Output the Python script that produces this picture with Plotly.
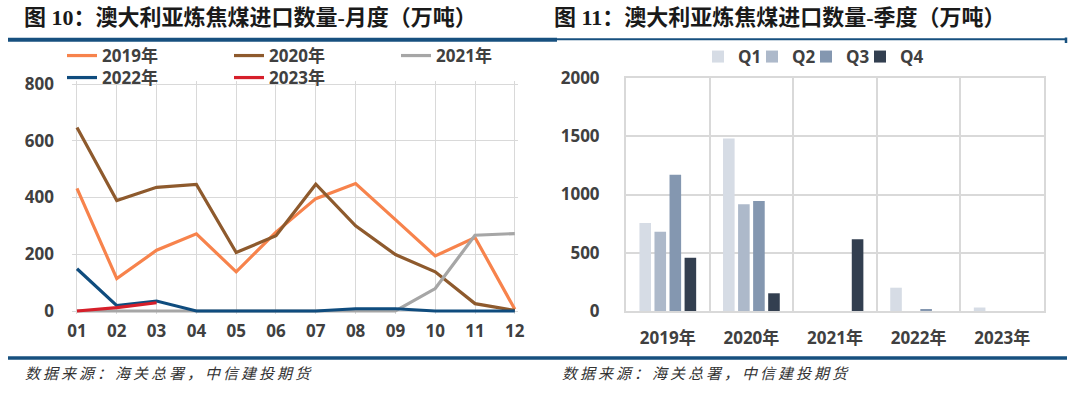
import plotly.graph_objects as go

W, H = 1080, 393

# ---------------- data ----------------
months = ["01", "02", "03", "04", "05", "06", "07", "08", "09", "10", "11", "12"]
y2019 = [432, 114, 214, 272, 138, 278, 396, 449, 322, 194, 259, 6]
y2020 = [647, 389, 436, 446, 206, 265, 447, 300, 199, 138, 26, 2]
y2021 = [0, 0, 0, 0, 0, 0, 0, 0, 0, 79, 267, 273]
y2022 = [149, 19, 35, 0, 0, 0, 0, 8, 8, 0, 0, 0]
y2023 = [0, 12, 29]

years = ["2019年", "2020年", "2021年", "2022年", "2023年"]
q1 = [755, 1480, 0, 200, 30]
q2 = [680, 917, 0, 0, None]
q3 = [1170, 945, 0, 10, None]
q4 = [457, 152, 615, 0, None]

month_series = [("2019年", y2019, "#F7834C"), ("2020年", y2020, "#8E5A2D"),
                ("2021年", y2021, "#A6A6A6"), ("2022年", y2022, "#0F4C7E"),
                ("2023年", y2023, "#D61F2A")]
quarter_series = [("Q1", q1, "#D6DCE5"), ("Q2", q2, "#ADB9CA"),
                  ("Q3", q3, "#8497B0"), ("Q4", q4, "#333F50")]

TXT = "#404040"
GRID = "#D9D9D9"
FONT = "Open Sans, Noto Sans CJK SC, sans-serif"
NAVY = "#17507F"

def px(x):
    return x / W

def py(y):
    return 1 - y / H

fig = go.Figure()

for i, (name, vals, col) in enumerate(month_series):
    fig.add_trace(go.Scatter(
        x=list(range(len(vals))), y=vals, mode="lines", name=name,
        line=dict(color=col, width=3.2),
        xaxis="x", yaxis="y",
        legend="legend" if i < 3 else "legend2",
    ))

for i, (name, vals, col) in enumerate(quarter_series):
    fig.add_trace(go.Bar(
        x=years, y=vals, name=name, marker=dict(color=col, line=dict(width=0)),
        xaxis="x2", yaxis="y2", legend="legend3",
        legendwidth=9 if i < 3 else 26,
    ))

tickfont = dict(family=FONT, size=17, color=TXT, weight="bold")
legfont = dict(family=FONT, size=17, color=TXT, weight="bold")

fig.update_layout(
    width=W, height=H,
    margin=dict(l=0, r=0, t=0, b=0, autoexpand=False),
    paper_bgcolor="white", plot_bgcolor="white",
    showlegend=True,
    barmode="group", bargap=0.28, bargroupgap=0.23,
    xaxis=dict(
        domain=[px(72), px(518)], range=[-0.125, 11.08],
        tickmode="array", tickvals=list(range(12)), ticktext=months,
        showgrid=True, gridcolor=GRID, gridwidth=1.3, zeroline=False,
        showline=False, ticks="", tickfont=tickfont, ticklabelstandoff=5,
        fixedrange=True, automargin=False,
    ),
    yaxis=dict(
        domain=[py(314.4), py(80.6)], range=[-12, 812],
        tickmode="array", tickvals=[0, 200, 400, 600, 800],
        showgrid=True, gridcolor=GRID, gridwidth=1.3, zeroline=False,
        showline=False, ticks="", tickfont=tickfont, ticklabelstandoff=17,
        fixedrange=True, automargin=False,
    ),
    xaxis2=dict(
        anchor="y2", domain=[px(626), px(1044)], type="category",
        tickson="boundaries", showgrid=True, gridcolor=GRID, gridwidth=2,
        showline=True, mirror=True, linecolor=GRID, linewidth=2,
        ticks="", tickfont=tickfont, ticklabelstandoff=11, fixedrange=True,
        automargin=False,
    ),
    yaxis2=dict(
        anchor="x2", domain=[py(311), py(78)], range=[0, 2000], dtick=500,
        showgrid=True, gridcolor=GRID, gridwidth=2, zeroline=False,
        showline=True, mirror=True, linecolor=GRID, linewidth=2,
        ticks="", tickfont=tickfont, ticklabelstandoff=21, fixedrange=True,
        automargin=False,
    ),
    legend=dict(orientation="h", x=px(62), xanchor="left", y=py(56), yanchor="middle",
                entrywidth=122, font=legfont, bgcolor="rgba(0,0,0,0)", itemclick=False),
    legend2=dict(orientation="h", x=px(62), xanchor="left", y=py(78), yanchor="middle",
                 entrywidth=122, font=legfont, bgcolor="rgba(0,0,0,0)", itemclick=False),
    legend3=dict(orientation="h", x=px(698), xanchor="left", y=py(57), yanchor="middle",
                 font=legfont, bgcolor="rgba(0,0,0,0)", itemclick=False),
)

# titles
title_font = dict(family="Liberation Serif, Noto Sans CJK SC, serif", size=22, color="#1a1a1a", weight="bold")
fig.add_annotation(x=px(22), y=py(18), xref="paper", yref="paper", xanchor="left", yanchor="middle",
                   text="图 10：澳大利亚炼焦煤进口数量-月度（万吨）", showarrow=False, font=title_font)
fig.add_annotation(x=px(552), y=py(18), xref="paper", yref="paper", xanchor="left", yanchor="middle",
                   text="图 11：澳大利亚炼焦煤进口数量-季度（万吨）", showarrow=False, font=title_font)

# footers
foot_font = dict(family="Noto Sans CJK SC, sans-serif", size=15, color="#333333", style="italic")
for xl in (23, 560):
    fig.add_annotation(x=px(xl), y=py(372), xref="paper", yref="paper", xanchor="left", yanchor="middle",
                       text="<span style='letter-spacing:3px'>数据来源：海关总署，中信建投期货</span>",
                       showarrow=False, font=foot_font)

# separator lines
fig.add_shape(type="line", xref="paper", yref="paper", x0=px(8), x1=px(557), y0=py(39.7), y1=py(39.7),
              line=dict(color=NAVY, width=4))
fig.add_shape(type="line", xref="paper", yref="paper", x0=px(557), x1=px(1067), y0=py(39.3), y1=py(39.3),
              line=dict(color=NAVY, width=2))
fig.add_shape(type="line", xref="paper", yref="paper", x0=px(1066), x1=px(1066), y0=py(37.5), y1=py(43),
              line=dict(color=NAVY, width=2.5))
fig.add_shape(type="line", xref="paper", yref="paper", x0=px(8), x1=px(1067), y0=py(358), y1=py(358),
              line=dict(color=NAVY, width=3.5))

fig.write_html(
    "out.html",
    config={"displayModeBar": False},
    post_script="document.body.style.margin='0';document.body.style.overflow='hidden';",
)
